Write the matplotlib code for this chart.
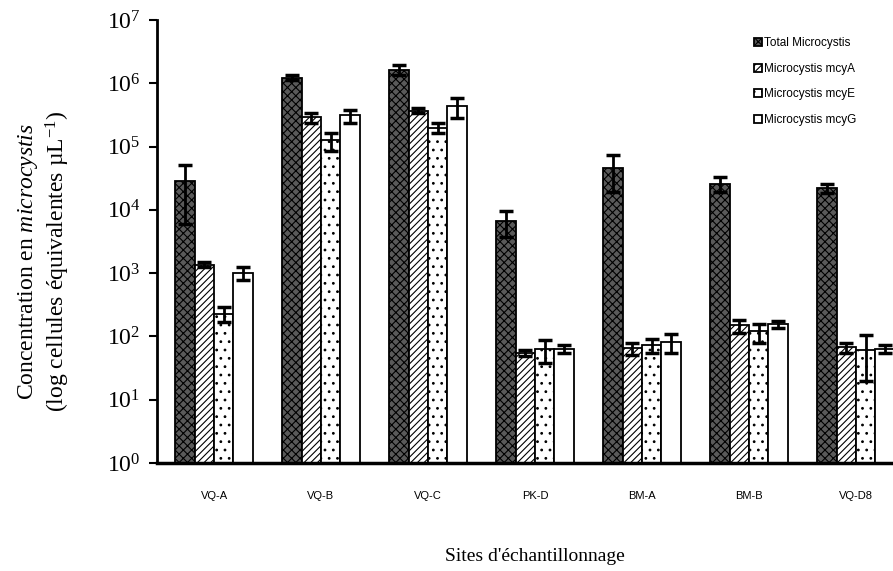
import matplotlib
matplotlib.use("Agg")
import matplotlib.pyplot as plt
import numpy as np
from matplotlib.ticker import LogLocator, LogFormatterMathtext, NullLocator

plt.rcParams["font.family"] = ["Liberation Serif", "DejaVu Serif"]
plt.rcParams["mathtext.fontset"] = "custom"
plt.rcParams["mathtext.rm"] = "Liberation Serif"
plt.rcParams["mathtext.it"] = "Liberation Serif:italic"
plt.rcParams["hatch.linewidth"] = 0.8

# Données
sites = ["VQ-A", "VQ-B", "VQ-C", "PK-D", "BM-A", "BM-B", "VQ-D8"]
series = ["Total Microcystis", "Microcystis mcyA", "Microcystis mcyE", "Microcystis mcyG"]

total = [2.85e4, 1.23e6, 1.65e6, 6.6e3, 4.65e4, 2.6e4, 2.2e4]
total_err = [2.25e4, 1.2e5, 3.0e5, 2.9e3, 2.75e4, 7.0e3, 3.5e3]

mcya = [1.37e3, 2.9e5, 3.7e5, 55, 65, 150, 67]
mcya_err = [1.3e2, 5.0e4, 3.5e4, 6, 14, 35, 12]

mcye = [230, 1.25e5, 2.0e5, 63, 73, 120, 62]
mcye_err = [60, 4.0e4, 3.7e4, 25, 18, 40, 42]

mcyg = [1.0e3, 3.1e5, 4.3e5, 64, 82, 155, 64]
mcyg_err = [2.3e2, 7.0e4, 1.5e5, 9, 27, 20, 9]

values = [total, mcya, mcye, mcyg]
errors = [total_err, mcya_err, mcye_err, mcyg_err]

# style de chaque série : couleur de fond, hachures
styles = [
    {"facecolor": "#5a5a5a", "hatch": "xxxx"},
    {"facecolor": "white", "hatch": "/////"},
    {"facecolor": "white", "hatch": ".."},
    {"facecolor": "white", "hatch": ""},
]

fig = plt.figure(figsize=(8.93, 5.71), dpi=100)
ax = fig.add_axes([0.1758, 0.189, 0.8466, 0.776])

x = np.arange(len(sites))
width = 0.182

for i, (vals, errs, st, name) in enumerate(zip(values, errors, styles, series)):
    offset = (i - 1.5) * width
    ax.bar(x + offset, vals, width, label=name, facecolor=st["facecolor"],
           hatch=st["hatch"], edgecolor="black", linewidth=1.3, zorder=2)
    ax.errorbar(x + offset, vals, yerr=errs, fmt="none", ecolor="black",
                elinewidth=2, capsize=5, capthick=2.5, zorder=3)

ax.set_yscale("log")
ax.set_ylim(1, 1e7)
ax.set_xlim(-0.533, 6.533)

ax.yaxis.set_major_locator(LogLocator(base=10, numticks=10))
ax.yaxis.set_major_formatter(LogFormatterMathtext())
ax.yaxis.set_minor_locator(NullLocator())
ax.tick_params(axis="y", which="major", direction="out", length=6, width=1.5,
               labelsize=17, pad=6)

ax.set_xticks(x)
ax.set_xticklabels(sites, fontsize=8, family="Liberation Sans")
ax.tick_params(axis="x", length=0, pad=20)

for side in ["top", "right"]:
    ax.spines[side].set_visible(False)
ax.spines["left"].set_linewidth(2)
ax.spines["bottom"].set_linewidth(2.5)

ax.set_xlabel("Sites d'échantillonnage", fontsize=14, labelpad=34)
ax.set_ylabel("Concentration en $\\it{microcystis}$\n"
              "(log cellules équivalentes µL$^{\\mathrm{-1}}$)",
              fontsize=17, linespacing=1.2)
ax.yaxis.set_label_coords(-0.112, 0.455)

leg = ax.legend(loc="upper left", bbox_to_anchor=(0.775, 0.985),
                frameon=False, prop={"family": "Liberation Sans", "size": 8.5},
                handlelength=0.7, handleheight=0.7, handletextpad=0.15,
                labelspacing=1.15)

fig.savefig("out.png", dpi=100)
